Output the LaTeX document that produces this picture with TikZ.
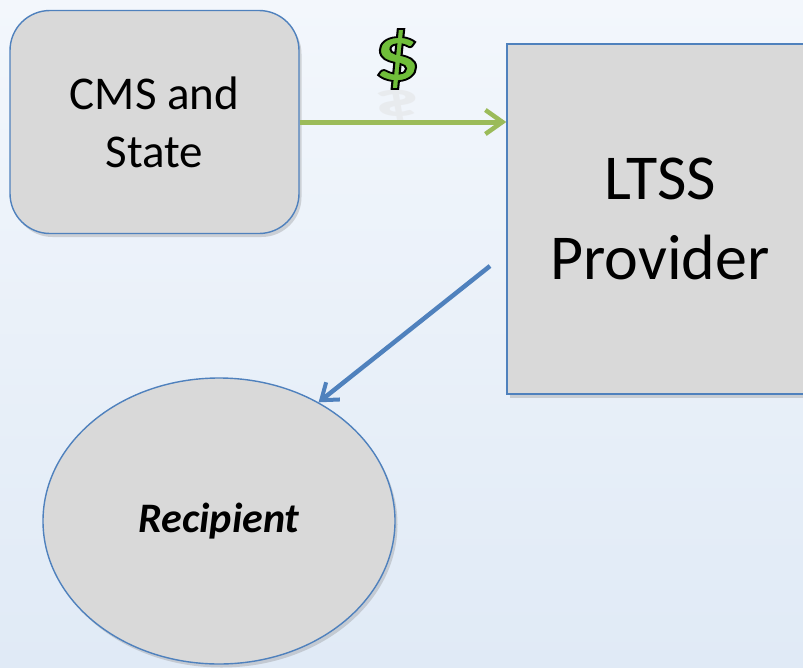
\documentclass[tikz,border=0pt]{standalone}
\usepackage{fontspec}
\setmainfont{Carlito}
\usetikzlibrary{arrows.meta,shapes.geometric,shadows}
\definecolor{boxfill}{RGB}{217,217,217}
\definecolor{boxline}{RGB}{79,129,189}
\definecolor{arrgreen}{RGB}{155,187,89}
\definecolor{arrblue}{RGB}{79,129,189}
\definecolor{dollargreen}{RGB}{112,190,58}
\definecolor{bgtop}{RGB}{243,247,252}
\definecolor{bgbot}{RGB}{224,234,246}
\newcommand{\outlinedtext}[1]{\special{pdf:code q 2 Tr 1.8 w 0 0 0 RG}#1\special{pdf:code Q}}
\tikzset{
  boxstyle/.style={draw=boxline, line width=1.4pt, fill=boxfill, align=center,
    text=black, inner sep=0pt,
    drop shadow={shadow xshift=2.5pt, shadow yshift=-3.5pt, opacity=0.3}},
  flowgreen/.style={draw=arrgreen, line width=5pt,
    -{Straight Barb[length=17pt,width=24pt,line width=4.5pt]}},
  flowblue/.style={draw=arrblue, line width=4.5pt,
    -{Straight Barb[length=15pt,width=22pt,line width=4pt]}},
}
\begin{document}
\begin{tikzpicture}[x=1pt,y=-1pt]
\useasboundingbox (0,0) rectangle (803,667);
\clip (0,0) rectangle (803,667);
\fill[top color=bgtop, bottom color=bgbot] (0,0) rectangle (803,667);
\node[boxstyle, rounded corners=40pt, minimum width=289pt, minimum height=223pt,
  font=\fontsize{47}{58}\selectfont] (cms) at (154.5,122) {CMS and\\State};
\node[boxstyle, minimum width=306pt, minimum height=350pt,
  font=\fontsize{64}{80}\selectfont] (ltss) at (660,219) {LTSS\\Provider};
\node[boxstyle, ellipse, minimum width=352pt, minimum height=286pt,
  font=\fontsize{42}{50}\selectfont\bfseries\itshape] (rec) at (219,521) {Recipient};
\node[font=\fontsize{80}{80}\selectfont\bfseries, text=black!12, opacity=0.45,
  xscale=1.15, yscale=-0.6, inner sep=0pt] (dshadow) at (397,103) {\$};
\node[font=\fontsize{80}{80}\selectfont\bfseries, text=dollargreen, xscale=1.15,
  inner sep=0pt] (dollar) at (397,59) {\outlinedtext{\$}};
\coordinate (bstart) at (490,266);
\draw[flowgreen] (cms.east) -- (cms.east -| ltss.west);
\draw[flowblue] (bstart) -- (rec.50);
\end{tikzpicture}
\end{document}
